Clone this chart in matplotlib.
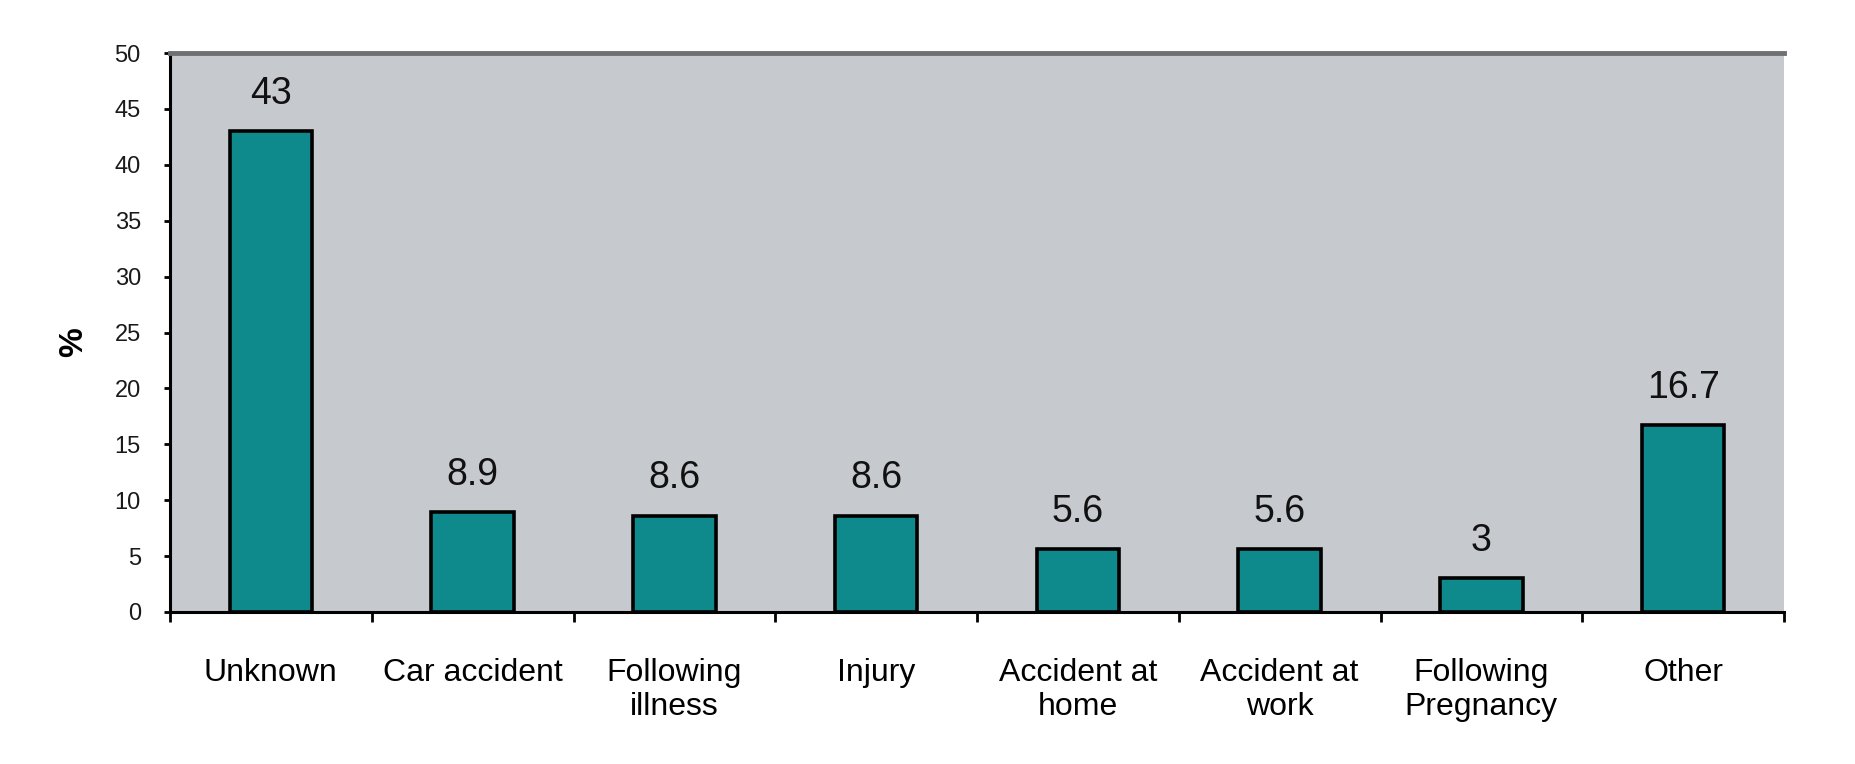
import matplotlib
matplotlib.use("Agg")
import matplotlib.pyplot as plt
import numpy as np

# data
categories = ["Unknown", "Car accident", "Following\nillness", "Injury",
              "Accident at\nhome", "Accident at\nwork", "Following\nPregnancy", "Other"]
values = [43, 8.9, 8.6, 8.6, 5.6, 5.6, 3, 16.7]
value_labels = ["43", "8.9", "8.6", "8.6", "5.6", "5.6", "3", "16.7"]
y_ticks = [0, 5, 10, 15, 20, 25, 30, 35, 40, 45, 50]

plt.rcParams['font.family'] = ['Liberation Sans', 'DejaVu Sans']

W, H = 1855, 764
fig = plt.figure(figsize=(W / 100, H / 100), dpi=100)
ax = fig.add_axes([170 / W, 1 - 612 / H, (1784 - 170) / W, (612 - 53) / H])
ax.set_facecolor("#c6c9cd")

x = np.arange(len(categories))
bars = ax.bar(x, values, width=0.41, color="#0f8a8c", edgecolor="black", linewidth=2.6)

# value labels above bars
for b, lab in zip(bars, value_labels):
    ax.annotate(lab, (b.get_x() + b.get_width() / 2, b.get_height()),
                xytext=(0, 14), textcoords="offset points",
                ha="center", va="bottom", fontsize=27, color="#111111")

ax.set_xlim(-0.5, len(categories) - 0.5)
ax.set_ylim(0, 50)
ax.set_yticks(y_ticks)
ax.tick_params(axis="y", labelsize=17, length=4, width=2, pad=17, labelcolor="#1a1a1a")

# category labels centered, tick marks at category boundaries
ax.set_xticks(np.arange(len(categories) + 1) - 0.5)
ax.set_xticklabels([])
ax.tick_params(axis="x", length=7, width=2, direction="out")
ax.set_xticks(x, minor=True)
ax.set_xticklabels(categories, minor=True, fontsize=23, linespacing=1.2)
ax.tick_params(axis="x", which="minor", length=0, pad=33)

ax.set_ylabel("%", fontsize=24, fontweight="bold", va="center")
ax.yaxis.set_label_coords(-0.060, 0.483)

ax.spines["left"].set_linewidth(2.2)
ax.spines["bottom"].set_linewidth(2.2)
ax.spines["top"].set_color("#6e7073")
ax.spines["top"].set_linewidth(3.5)
ax.spines["right"].set_visible(False)

plt.savefig("out.png", dpi=100)
